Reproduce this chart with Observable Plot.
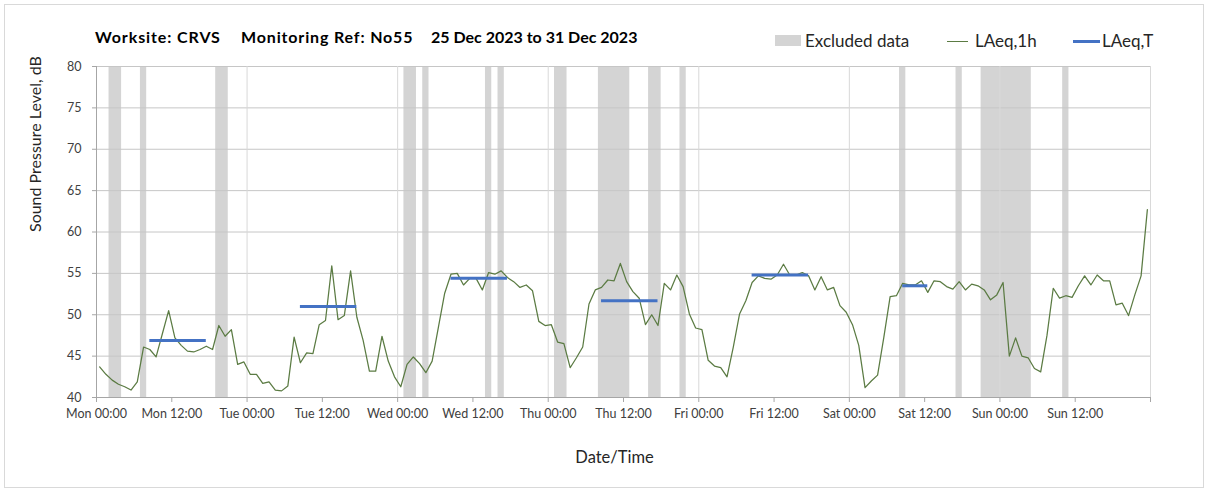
<!DOCTYPE html>
<html>
<head>
<meta charset="utf-8">
<script src="https://cdn.jsdelivr.net/npm/d3@7"></script>
<script src="https://cdn.jsdelivr.net/npm/@observablehq/plot@0.6"></script>
<style>
  body { margin: 0; background: #fff; }
  #wrap { position: relative; width: 1208px; height: 492px; overflow: hidden; font-family: Lato, "Open Sans", sans-serif; }
  #border { position: absolute; left: 4px; top: 4px; width: 1200px; height: 484px; border: 1px solid #d9d9d9; box-sizing: border-box; }
  #chart { position: absolute; left: 0; top: 0; }
  .t { position: absolute; white-space: nowrap; line-height: 1; }
  .title { font-weight: bold; font-size: 16px; color: #000; top: 29px; }
  .leg { font-size: 17px; color: #262626; top: 32px; }
  .sw { position: absolute; }
</style>
</head>
<body>
<div id="wrap">
  <div id="border"></div>
  <div id="chart"></div>
  <div class="t title" style="left:95px;letter-spacing:0.9px">Worksite: CRVS</div>
  <div class="t title" style="left:241px;letter-spacing:0.85px">Monitoring Ref: No55</div>
  <div class="t title" style="left:431px">25 Dec 2023 to 31 Dec 2023</div>
  <div class="sw" style="left:775px;top:35px;width:26px;height:11px;background:#d4d4d4"></div>
  <div class="t leg" style="left:805px">Excluded data</div>
  <div class="sw" style="left:947px;top:40.5px;width:21px;height:1.3px;background:#5b7b43"></div>
  <div class="t leg" style="left:975px">LAeq,1h</div>
  <div class="sw" style="left:1073px;top:39.5px;width:27px;height:3px;background:#4472c4"></div>
  <div class="t leg" style="left:1102px">LAeq,T</div>
</div>
<script>
// Hourly LAeq,1h values (dB), Mon 25 Dec 2023 00:00 onwards, one per hour
const hourlyLevels = [
  43.7, 42.8, 42.1, 41.6, 41.3, 40.9, 41.9, 46.1, 45.8, 44.9, 47.7, 50.5, 47.2, 46.3, 45.6, 45.5, 45.8, 46.2, 45.8, 48.7, 47.4, 48.2, 44.0, 44.3,
  42.8, 42.8, 41.7, 41.9, 40.9, 40.8, 41.4, 47.3, 44.2, 45.4, 45.3, 48.8, 49.3, 55.9, 49.4, 49.9, 55.3, 49.7, 46.9, 43.2, 43.2, 47.4, 44.4, 42.5,
  41.3, 44.0, 44.9, 44.1, 43.0, 44.4, 48.5, 52.6, 54.9, 55.0, 53.6, 54.4, 54.4, 53.0, 55.1, 54.9, 55.3, 54.5, 54.0, 53.3, 53.6, 52.9, 49.2, 48.7,
  48.8, 46.7, 46.5, 43.6, 44.8, 46.1, 51.3, 53.0, 53.3, 54.2, 54.1, 56.2, 54.0, 52.8, 52.0, 48.8, 50.0, 48.7, 53.8, 53.0, 54.8, 53.4, 50.1, 48.4,
  48.2, 44.5, 43.8, 43.6, 42.5, 46.1, 50.1, 51.7, 53.9, 54.7, 54.4, 54.3, 54.8, 56.1, 54.8, 54.8, 55.1, 54.7, 53.0, 54.6, 53.0, 53.3, 51.1, 50.3,
  48.8, 46.3, 41.2, 42.0, 42.7, 47.3, 52.2, 52.3, 53.8, 53.6, 53.6, 54.1, 52.7, 54.1, 54.0, 53.4, 53.1, 54.0, 53.0, 53.7, 53.5, 53.0, 51.8, 52.4,
  53.9, 45.0, 47.2, 45.0, 44.8, 43.5, 43.1, 47.5, 53.2, 52.0, 52.3, 52.1, 53.5, 54.7, 53.6, 54.8, 54.1, 54.1, 51.2, 51.4, 49.9, 52.4, 54.7, 62.7
];

// Excluded data periods (hours from Mon 00:00)
const excludedStart = [2, 7, 19, 49, 52, 62, 64, 73, 80, 88, 93, 128, 137, 141, 154];
const excludedEnd   = [4, 8, 21, 51, 53, 63, 65, 75, 85, 90, 94, 129, 138, 149, 155];

// LAeq,T assessment periods (hours from Mon 00:00) and levels (dB)
const periodStart  = [8, 32, 56, 80, 104, 128];
const periodEnd    = [18, 42, 66, 90, 114, 133];
const periodLevels = [46.9, 51.0, 54.4, 51.7, 54.8, 53.5];

// Axis tick labels every 12 h
const xTickLabels = ["Mon 00:00", "Mon 12:00", "Tue 00:00", "Tue 12:00", "Wed 00:00", "Wed 12:00", "Thu 00:00",
  "Thu 12:00", "Fri 00:00", "Fri 12:00", "Sat 00:00", "Sat 12:00", "Sun 00:00", "Sun 12:00", ""];
const yTicks = [40, 45, 50, 55, 60, 65, 70, 75, 80];

const hourly = hourlyLevels.map((v, i) => ({t: i + 0.5, v}));
const excluded = excludedStart.map((s, i) => ({start: s, end: excludedEnd[i]}));
const periods = periodStart.map((s, i) => ({start: s + 0.5, end: periodEnd[i] - 0.5, level: periodLevels[i]}));

const chart = Plot.plot({
  width: 1208,
  height: 492,
  marginLeft: 96,
  marginRight: 58,
  marginTop: 66,
  marginBottom: 95,
  style: {fontFamily: "Lato, 'Open Sans', sans-serif", fontSize: "12.5px", background: "transparent", color: "#404040"},
  x: {domain: [0, 168]},
  y: {domain: [40, 80]},
  marks: [
    Plot.rect(excluded, {x1: "start", x2: "end", fill: "#d4d4d4"}),
    Plot.gridY({ticks: yTicks.slice(1), stroke: "#c6c6c6", strokeOpacity: 1}),
    Plot.gridX({ticks: d3.range(24, 169, 24), stroke: "#d9d9d9", strokeOpacity: 1}),
    Plot.ruleY([40], {stroke: "#a6a6a6"}),
    Plot.ruleX([0], {stroke: "#a6a6a6"}),
    Plot.axisX({ticks: d3.range(0, 169, 12), tickFormat: h => xTickLabels[h / 12], tickSize: 5, tickPadding: 7, stroke: "#a6a6a6", fill: "#404040", label: null}),
    Plot.axisY({ticks: yTicks, tickSize: 4, tickPadding: 11, stroke: "#a6a6a6", fill: "#404040", label: null}),
    Plot.line(hourly, {x: "t", y: "v", stroke: "#5b7b43", strokeWidth: 1.25}),
    Plot.ruleY(periods, {x1: "start", x2: "end", y: "level", stroke: "#4472c4", strokeWidth: 3}),
    Plot.text(["Date/Time"], {frameAnchor: "bottom", dx: -9, dy: 65, fontSize: 16.5, fill: "#262626"}),
    Plot.text(["Sound Pressure Level, dB"], {frameAnchor: "left", dx: -61, rotate: -90, fontSize: 16, fill: "#262626"})
  ]
});
document.getElementById("chart").appendChild(chart);
</script>
</body>
</html>
